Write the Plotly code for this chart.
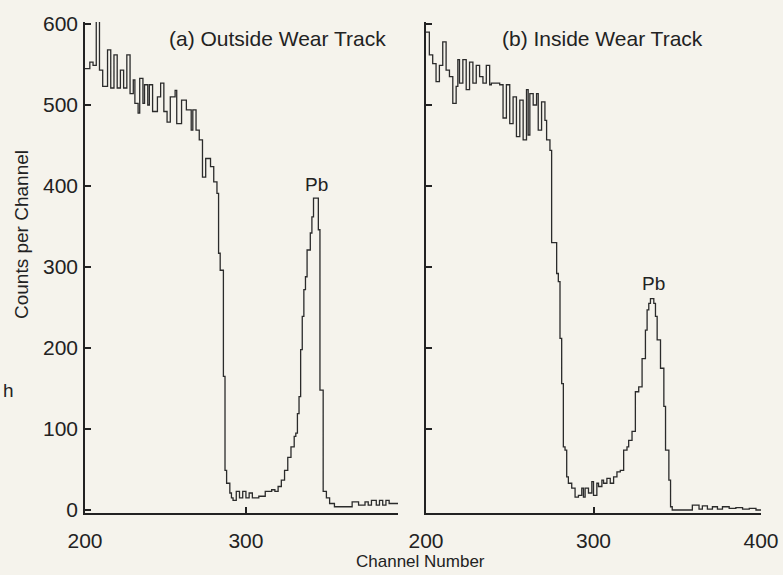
import plotly.graph_objects as go

W, H = 783, 575

# ---- Panel (a): Outside wear track (step starts, counts) ----
a_channel = [200, 203, 205, 207, 209, 211, 214, 216, 218, 220, 222, 224, 226, 228, 230, 231,
             233, 234, 236, 237, 239, 240, 242, 245, 247, 249, 251, 253, 256, 257, 260, 263,
             266, 267, 269, 271, 273, 275, 278, 280, 282, 283, 284, 286, 287, 288, 290, 291,
             292, 294, 296, 298, 300, 302, 304, 308, 312, 316, 318, 320, 322, 324, 326, 328,
             330, 331, 332, 333, 334, 335, 336, 337, 338, 340, 341, 342, 345, 346, 348, 350,
             352, 355, 366, 370, 374, 376, 378, 381, 383, 385, 387, 389]
a_counts = [545, 553, 549, 607, 543, 523, 568, 521, 562, 521, 543, 521, 562, 514, 531, 502,
            490, 533, 502, 525, 500, 525, 492, 510, 527, 492, 479, 510, 518, 477, 506, 494,
            469, 494, 469, 457, 411, 434, 424, 405, 391, 317, 296, 165, 49, 33, 21, 15,
            12, 23, 15, 23, 15, 21, 15, 17, 23, 25, 23, 29, 37, 49, 65, 78,
            91, 95, 119, 140, 198, 239, 272, 288, 321, 342, 362, 385, 346, 148, 23, 15,
            8, 4, 10, 6, 10, 6, 12, 6, 12, 6, 12, 8]
a_end = 394.5

# ---- Panel (b): Inside wear track ----
b_channel = [200, 202, 204, 206, 208, 210, 212, 214, 216, 218, 219, 220, 222, 224, 226, 228,
             230, 232, 234, 236, 238, 239, 244, 246, 248, 250, 252, 254, 256, 258, 260, 261,
             262, 264, 266, 267, 269, 271, 272, 274, 275, 278, 279, 280, 281, 282, 283, 284,
             285, 287, 289, 291, 293, 294, 295, 297, 299, 300, 302, 303, 305, 306, 308, 310,
             312, 314, 316, 318, 320, 321, 323, 325, 327, 329, 331, 332, 333, 334, 336, 337,
             338, 340, 342, 343, 345, 346, 347, 359, 363, 365, 368, 371, 374, 377, 381, 385,
             389, 393, 397]
b_counts = [590, 562, 551, 529, 549, 578, 543, 535, 502, 523, 556, 527, 556, 519, 553, 527,
            549, 535, 527, 549, 525, 527, 525, 484, 525, 477, 510, 461, 506, 457, 519, 463,
            514, 500, 514, 469, 504, 481, 457, 444, 330, 292, 282, 212, 156, 78, 74, 41,
            33, 27, 16, 18, 27, 16, 27, 21, 35, 18, 33, 29, 37, 33, 39, 33,
            41, 47, 49, 74, 78, 86, 97, 146, 152, 187, 222, 247, 255, 261, 255, 239,
            210, 175, 128, 74, 37, 4, 0, 6, 1, 5, 1, 4, 1, 4, 2, 3,
            1, 2, 0]
b_end = 400

y_ticks = [0, 100, 200, 300, 400, 500, 600]
a_xticks = [200, 300]
b_xticks = [200, 300, 400]

FONT = "Liberation Sans"
INK = "#222222"
LINE = "#2b2b2b"
BG = "#f5f3ec"

def fx(p):
    return p / W

def fy(p):
    return 1 - p / H

fig = go.Figure()
fig.add_trace(go.Scatter(x=a_channel + [a_end], y=a_counts + [a_counts[-1]], mode="lines",
                         line=dict(shape="hv", color=LINE, width=1.3),
                         xaxis="x", yaxis="y", showlegend=False, hoverinfo="skip"))
fig.add_trace(go.Scatter(x=b_channel + [b_end], y=b_counts + [b_counts[-1]], mode="lines",
                         line=dict(shape="hv", color=LINE, width=1.3),
                         xaxis="x2", yaxis="y2", showlegend=False, hoverinfo="skip"))

yrange = [-3.7, 602.5]
ydom = [fy(513), fy(22)]
common = dict(showgrid=False, zeroline=False, showline=True, linecolor=INK, ticks="inside",
              ticklen=6, tickwidth=1.5, tickcolor=INK, automargin=False,
              tickfont=dict(family=FONT, size=21, color=INK))

fig.update_layout(
    width=W, height=H,
    margin=dict(l=0, r=0, t=0, b=0),
    paper_bgcolor=BG, plot_bgcolor=BG,
    xaxis=dict(domain=[fx(85), fx(398)], range=[200, a_end], tickvals=a_xticks,
               anchor="y", linewidth=2.2, ticklabelstandoff=8, **common),
    yaxis=dict(domain=ydom, range=yrange, tickvals=y_ticks, anchor="x",
               linewidth=1.6, ticklabelstandoff=1, **common),
    xaxis2=dict(domain=[fx(426), fx(761)], range=[200, b_end], tickvals=b_xticks,
                anchor="y2", linewidth=2.2, ticklabelstandoff=8, **common),
    yaxis2=dict(domain=ydom, range=yrange, tickvals=y_ticks[1:], anchor="x2",
                linewidth=1.6, showticklabels=False, **common),
    showlegend=False,
)

def ann(text, x, y, size, xanchor="center", yanchor="middle", angle=0):
    fig.add_annotation(text=text, x=fx(x), y=fy(y), xref="paper", yref="paper",
                       xanchor=xanchor, yanchor=yanchor, showarrow=False, textangle=angle,
                       font=dict(family=FONT, size=size, color=INK))

ann("(a) Outside Wear Track", 167, 39, 21, xanchor="left")
ann("(b) Inside Wear Track", 500, 39, 21, xanchor="left")
ann("Pb", 316, 185, 19)
ann("Pb", 653, 283, 19)
ann("Channel Number", 420, 561, 17)
ann("Counts per Channel", 21, 235, 19, angle=-90)
ann("h", 8, 390, 19)

page_fix = ("document.body.style.margin='0px';"
            "document.body.style.padding='0px';"
            "document.body.style.background='" + BG + "';")

fig.write_html("out.html", post_script=page_fix, config={"displayModeBar": False})
